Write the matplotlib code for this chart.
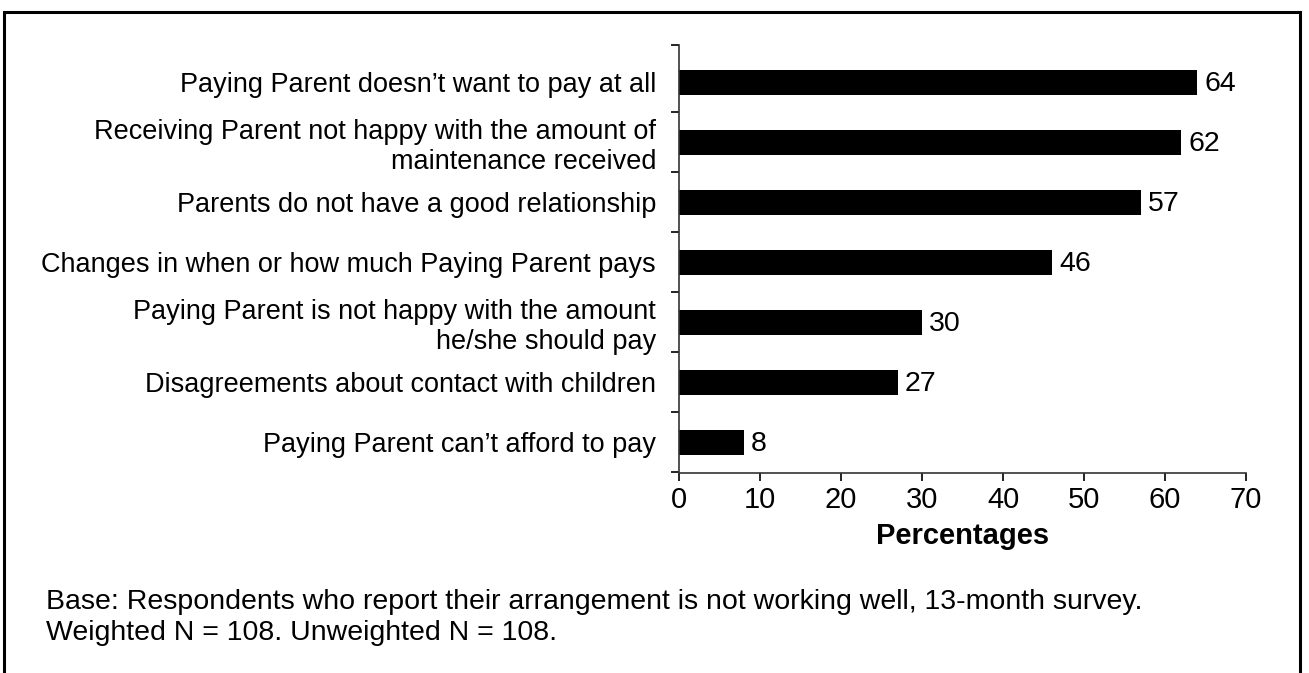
import matplotlib.pyplot as plt
from matplotlib.patches import Rectangle

plt.rcParams['font.family'] = ['Liberation Sans', 'DejaVu Sans']

# reasons, top to bottom
reasons = ["Paying Parent doesn\u2019t want to pay at all",
           "Receiving Parent not happy with the amount of\nmaintenance received",
           "Parents do not have a good relationship",
           "Changes in when or how much Paying Parent pays",
           "Paying Parent is not happy with the amount\nhe/she should pay",
           "Disagreements about contact with children",
           "Paying Parent can\u2019t afford to pay"]
percentages = [64, 62, 57, 46, 30, 27, 8]
xticks = [0, 10, 20, 30, 40, 50, 60, 70]

W, H = 1309, 673
fig = plt.figure(figsize=(W / 100, H / 100), dpi=100)
ax = fig.add_axes([679 / W, 1 - 473 / H, (1246 - 679) / W, (473 - 45) / H])

n = len(reasons)
ypos = list(range(n))
ax.barh(ypos, percentages, height=0.41, color='black')
ax.set_ylim(n - 0.49, -0.625)
ax.set_xlim(0, 70)

for y, v in zip(ypos, percentages):
    ax.text(v + 0.9, y + 0.02, str(v), va='center', ha='left', fontsize=20.5)

# ticks between categories on the y axis, labels centred on bars
ax.set_yticks([-0.625] + [i + 0.5 for i in range(n)])
ax.set_yticklabels([])
ax.set_yticks(ypos, minor=True)
ax.set_yticklabels(reasons, minor=True, fontsize=19.5, ha='right', linespacing=1.2)
ax.tick_params(axis='y', which='minor', length=0, pad=16.5)
ax.tick_params(axis='y', which='major', length=6, width=1.2, direction='out')

ax.set_xticks(xticks)
ax.set_xticklabels([str(t) for t in xticks], fontsize=21)
ax.tick_params(axis='x', length=6, width=1.2, direction='out', pad=3)
ax.set_xlabel('Percentages', fontsize=21, fontweight='bold', labelpad=6)

for s in ['top', 'right']:
    ax.spines[s].set_visible(False)
for s in ['left', 'bottom']:
    ax.spines[s].set_linewidth(1.2)
    ax.spines[s].set_color('#333333')

fig.text(46 / W, 1 - 602 / H, 'Base: Respondents who report their arrangement is not working well, 13-month survey.',
         fontsize=20.5, va='center', ha='left')
fig.text(46 / W, 1 - 633 / H, 'Weighted N = 108. Unweighted N = 108.',
         fontsize=20.5, va='center', ha='left')

# outer frame, bottom edge runs off the picture
fig.patches.append(Rectangle((4 / W, -0.1), (1300 - 4) / W, 1.1 - 12 / H,
                             transform=fig.transFigure, fill=False,
                             edgecolor='black', linewidth=2.2))

fig.savefig('out.png', dpi=100)
